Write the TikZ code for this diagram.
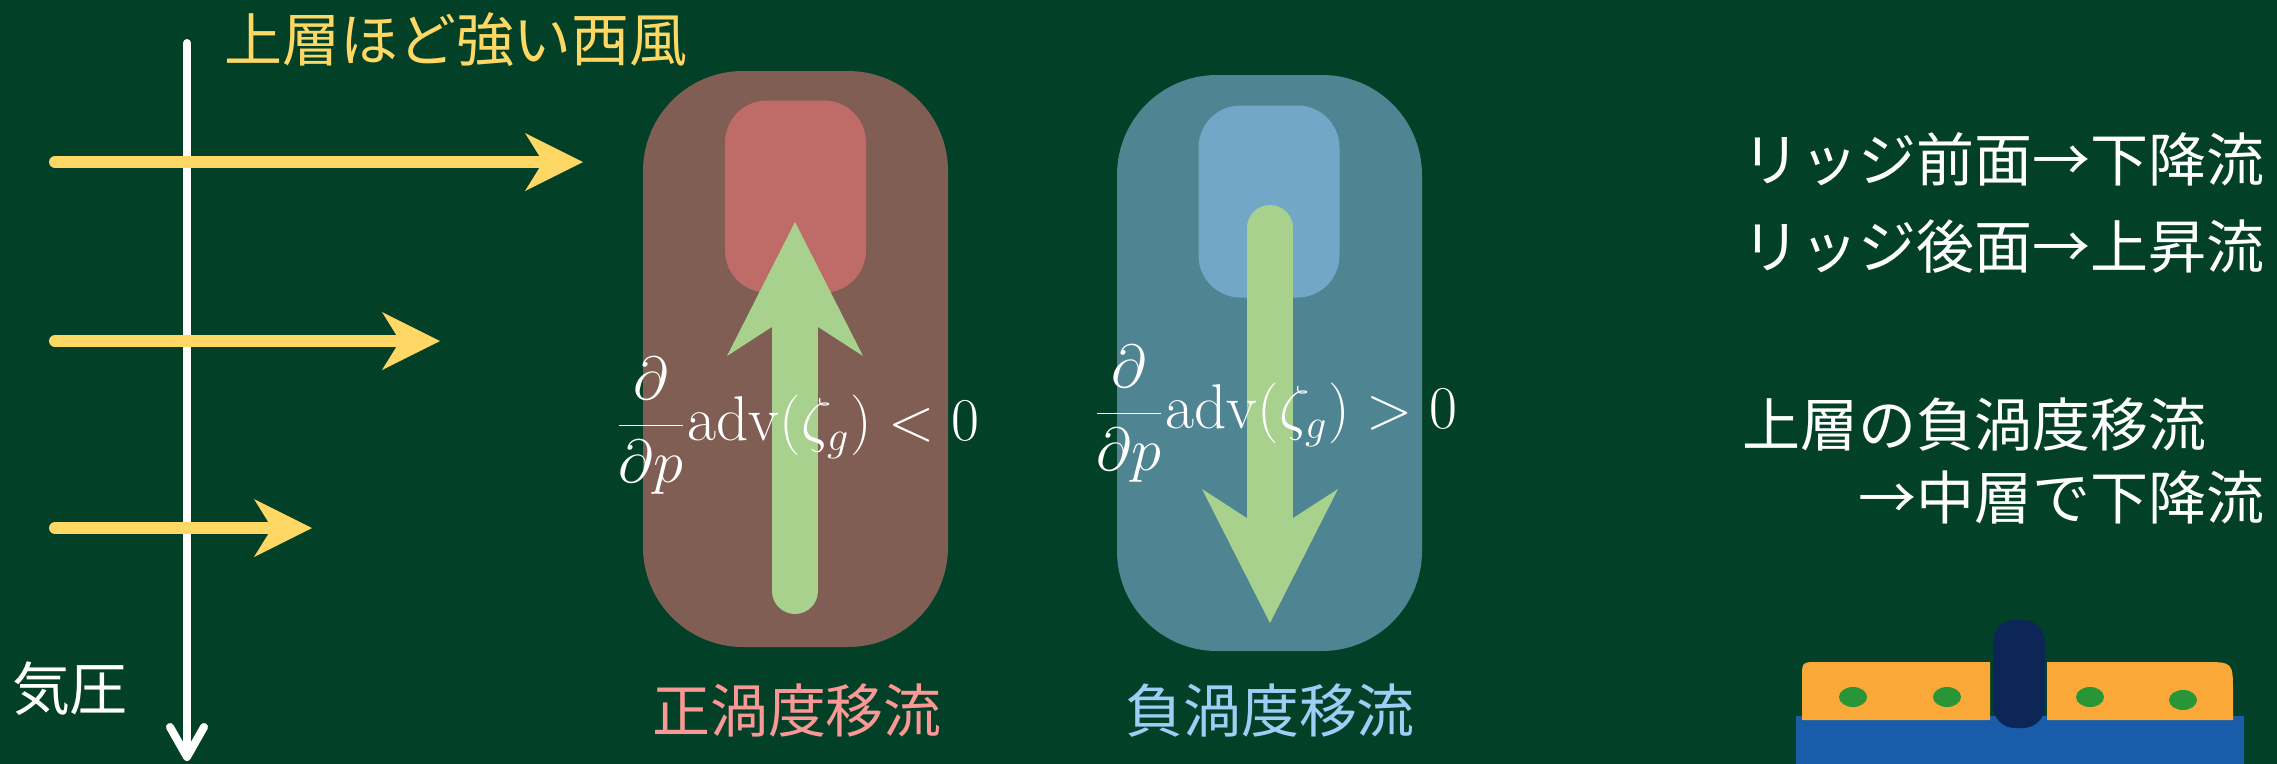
\documentclass[tikz,border=0pt]{standalone}
\usepackage{fontspec}
\newfontfamily\jpfont{Noto Sans CJK JP}
\usetikzlibrary{arrows.meta}

\definecolor{board}{RGB}{2,64,40}
\definecolor{chalkyellow}{RGB}{255,215,100}
\definecolor{posouter}{RGB}{128,94,84}
\definecolor{posinner}{RGB}{191,108,104}
\definecolor{negouter}{RGB}{79,133,146}
\definecolor{neginner}{RGB}{115,167,200}
\definecolor{flowgreen}{RGB}{168,209,141}
\definecolor{poslabel}{RGB}{250,152,150}
\definecolor{neglabel}{RGB}{160,205,245}
\definecolor{eraserblue}{RGB}{25,92,170}
\definecolor{eraserorange}{RGB}{250,168,55}
\definecolor{erasernavy}{RGB}{12,38,88}
\definecolor{eraserdot}{RGB}{40,150,55}

\tikzset{
  jptext/.style={font={\jpfont\fontsize{16.5}{20}\selectfont}, inner sep=0pt},
  eqtext/.style={font={\fontsize{18}{21}\selectfont}, text=white, inner sep=0pt},
  outerbox/.style={rectangle, rounded corners=10mm, minimum width=30.5mm,
    minimum height=57.6mm, inner sep=0pt},
  innerbox/.style={rectangle, rounded corners=4.2mm, minimum width=14.1mm,
    minimum height=19.2mm, inner sep=0pt},
  paxis/.style={draw=white, line width=0.8mm, line cap=round,
    -{Straight Barb[length=3mm, width=3.4mm, round]}},
  wind/.style={draw=chalkyellow, line width=1.2mm, line cap=round,
    -{Stealth[length=5.8mm, width=5.8mm, inset=1.8mm, line width=0pt 0 0]}},
  flow/.style={draw=flowgreen, line width=4.6mm, line cap=round,
    -{Stealth[length=13.4mm, width=13.6mm, inset=4.4mm, line width=0pt 0 0]}}
}

\begin{document}
\begin{tikzpicture}[x=0.1mm, y=-0.1mm]
  \useasboundingbox (0,0) rectangle (2277,764);
  \fill[board] (0,0) rectangle (2277,764);

  % pressure axis
  \coordinate (ptop) at (187,43);
  \coordinate (pbot) at (187,761);
  \draw[paxis] (ptop) -- (pbot);
  \node[jptext, text=white] (pres) at (70,689) {気圧};

  % westerlies
  \node[jptext, text=chalkyellow] (west) at (456,40) {上層ほど強い西風};
  \coordinate (w1s) at (55,162);
  \coordinate (w1e) at (583,162);
  \coordinate (w2s) at (55,341);
  \coordinate (w2e) at (440,341);
  \coordinate (w3s) at (55,528);
  \coordinate (w3e) at (312,528);
  \draw[wind] (w1s) -- (w1e);
  \draw[wind] (w2s) -- (w2e);
  \draw[wind] (w3s) -- (w3e);

  % positive vorticity advection
  \node[outerbox, fill=posouter] (pos) at (795.5,359) {};
  \node[innerbox, fill=posinner] (posup) at (795.5,196.5) {};
  \coordinate (posbot) at (795,591);
  \coordinate (postop) at (795,222);
  \draw[flow] (posbot) -- (postop);
  \node[eqtext] (poseq) at (797,426)
    {$\displaystyle\frac{\partial}{\partial p}\mathrm{adv}\bigl(\zeta_g\bigr)<0$};
  \node[jptext, text=poslabel] (poslab) at (797,711) {正渦度移流};

  % negative vorticity advection
  \node[outerbox, fill=negouter] (neg) at (1269.5,363) {};
  \node[innerbox, fill=neginner] (negup) at (1269,201.5) {};
  \coordinate (negtop) at (1270,228);
  \coordinate (negbot) at (1270,623);
  \draw[flow] (negtop) -- (negbot);
  \node[eqtext] (negeq) at (1275,414)
    {$\displaystyle\frac{\partial}{\partial p}\mathrm{adv}\bigl(\zeta_g\bigr)>0$};
  \node[jptext, text=neglabel] (neglab) at (1270,711) {負渦度移流};

  % notes
  \node[jptext, text=white, anchor=west] (n1) at (1742,159) {リッジ前面→下降流};
  \node[jptext, text=white, anchor=west] (n2) at (1742,247) {リッジ後面→上昇流};
  \node[jptext, text=white, anchor=west] (n3) at (1742,425) {上層の負渦度移流};
  \node[jptext, text=white, anchor=east] (n4) at (2265,497) {→中層で下降流};

  % eraser
  \fill[eraserblue] (1796,716) rectangle (2244,764);
  \fill[eraserorange] (1990,720) -- (1802,720) -- (1802,678)
    .. controls (1802,662) .. (1818,662) -- (1990,662) -- cycle;
  \fill[eraserorange] (2047,720) -- (2047,662) -- (2203,662)
    .. controls (2233,662) .. (2233,692) -- (2233,720) -- cycle;
  \fill[erasernavy, rounded corners=2.2mm] (1993,728) rectangle (2045,620);
  \fill[eraserdot] (1853,697) ellipse (14 and 10);
  \fill[eraserdot] (1947,697) ellipse (14 and 10);
  \fill[eraserdot] (2090,697) ellipse (14 and 10);
  \fill[eraserdot] (2183,700) ellipse (14 and 10);
\end{tikzpicture}
\end{document}
